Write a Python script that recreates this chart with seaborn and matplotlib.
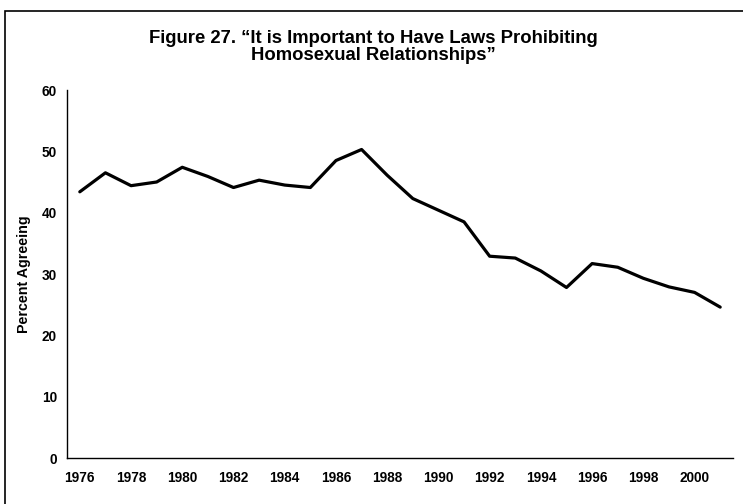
import matplotlib
matplotlib.use("Agg")
import matplotlib.pyplot as plt
import seaborn as sns
import pandas as pd
import numpy as np
from matplotlib.patches import Rectangle

years = list(range(1976, 2002))
percent = [43.4, 46.5, 44.4, 45.0, 47.4, 45.9, 44.1, 45.3, 44.5, 44.1, 48.5, 50.3,
           46.1, 42.3, 40.4, 38.5, 32.9, 32.6, 30.5, 27.8, 31.7, 31.1, 29.3, 27.9,
           27.0, 24.6]
yticks = [0, 10, 20, 30, 40, 50, 60]
xlabels = list(range(1976, 2001, 2))
title = "Figure 27. \u201cIt is Important to Have Laws Prohibiting\nHomosexual Relationships\u201d"
ylabel = "Percent Agreeing"

df = pd.DataFrame({"year": years, "percent": percent})

sns.set_style("white")
plt.rcParams['font.family'] = ['Liberation Sans', 'DejaVu Sans']
plt.rcParams.update({"text.color": "black", "axes.labelcolor": "black",
                     "xtick.color": "black", "ytick.color": "black",
                     "xtick.labelcolor": "black", "ytick.labelcolor": "black"})

fig = plt.figure(figsize=(7.43, 5.04), dpi=100)
ax = fig.add_axes([67/743, 1-458/504, (733-67)/743, (458-90)/504])

sns.lineplot(data=df, x="year", y="percent", ax=ax, color="black", linewidth=2.3)

ax.set_xlim(1975.5, 2001.5)
ax.set_ylim(0, 60)
ax.set_yticks(yticks)
ax.set_yticklabels([str(v) for v in yticks], fontweight="bold", fontsize=9.8, color="black")
ax.set_xticks(xlabels)
ax.set_xticklabels([str(v) for v in xlabels], fontweight="bold", fontsize=9.8, color="black")
ax.set_xticks(np.arange(1975.5, 2002, 1.0), minor=True)
ax.tick_params(axis="x", which="major", length=0, pad=9)
ax.tick_params(axis="x", which="minor", length=4, width=0.9, color="black", direction="out")
ax.tick_params(axis="y", which="major", length=3, width=0.9, color="black", direction="out", pad=4.3)
ax.set_xlabel("")
ax.set_ylabel(ylabel, fontweight="bold", fontsize=10.3, labelpad=8, color="black")

for s in ["top", "right"]:
    ax.spines[s].set_visible(False)
for s in ["left", "bottom"]:
    ax.spines[s].set_color("black")
    ax.spines[s].set_linewidth(1.0)

fig.text(373/743, 1-47/504, title, ha="center", va="center", fontsize=13.3,
         fontweight="bold", linespacing=1.0, color="black")

fig.patches.append(Rectangle((4.5/743, -0.05), 1.2, 1-11/504+0.05, transform=fig.transFigure,
                             fill=False, edgecolor="black", linewidth=1.2))

fig.savefig("out.png", dpi=100)
